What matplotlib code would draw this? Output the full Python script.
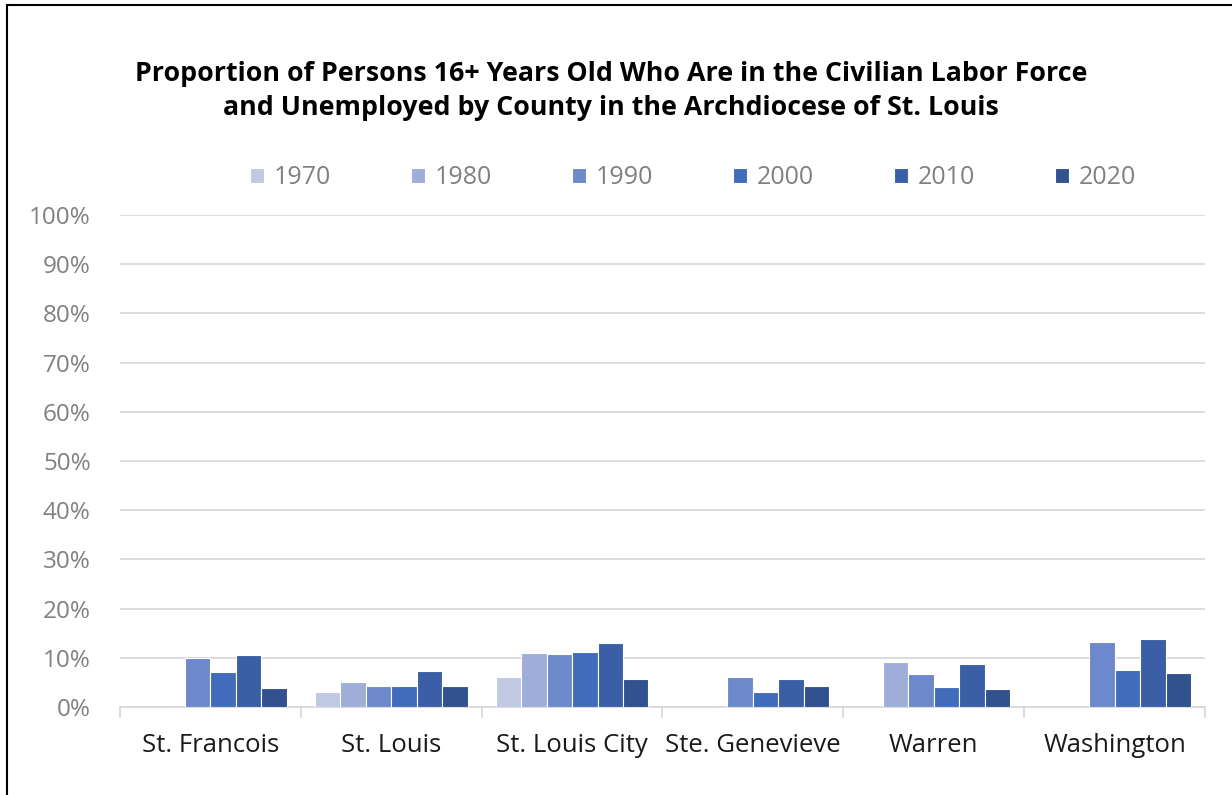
import numpy as np
import matplotlib.pyplot as plt
from matplotlib.patches import Rectangle

counties = ["St. Francois", "St. Louis", "St. Louis City", "Ste. Genevieve", "Warren", "Washington"]
years = ["1970", "1980", "1990", "2000", "2010", "2020"]
colors = ["#c0c9e4", "#9eaed9", "#6e88cc", "#416cbb", "#3a5fa7", "#31528e"]

# values per year, one per county (nan = no bar)
v1970 = [np.nan, 0.031, 0.061, np.nan, np.nan, np.nan]
v1980 = [np.nan, 0.051, 0.110, np.nan, 0.091, np.nan]
v1990 = [0.099, 0.042, 0.108, 0.061, 0.068, 0.132]
v2000 = [0.072, 0.043, 0.111, 0.030, 0.040, 0.075]
v2010 = [0.106, 0.073, 0.130, 0.057, 0.088, 0.139]
v2020 = [0.039, 0.043, 0.056, 0.042, 0.037, 0.070]
series = [v1970, v1980, v1990, v2000, v2010, v2020]

fig = plt.figure(figsize=(12.32, 7.95), dpi=100)
ax = fig.add_axes([120 / 1232, 1 - 707 / 795, 1085 / 1232, 492 / 795])

x = np.arange(len(counties))
n = len(series)
group = 0.845
w = group / n
for i, vals in enumerate(series):
    pos = x - group / 2 + w * (i + 0.5)
    ax.bar(pos, vals, width=w, color=colors[i], edgecolor="white", linewidth=0.8,
           label=years[i], zorder=3)

ax.set_xlim(-0.5, len(counties) - 0.5)
ax.set_ylim(0, 1)
ax.set_yticks(np.arange(0, 1.01, 0.1))
ax.set_yticklabels([f"{int(round(t * 100))}%" for t in np.arange(0, 1.01, 0.1)])
ax.yaxis.grid(True, color="#d9d9d9", linewidth=1.3, zorder=0)
ax.tick_params(axis="y", length=0, pad=21, labelsize=17.5, labelcolor="#808080")

ax.set_xticks(x)
ax.set_xticklabels(counties)
ax.tick_params(axis="x", length=0, pad=19, labelsize=18.5, labelcolor="#1a1a1a")
for b in np.arange(-0.5, len(counties), 1.0):
    ax.plot([b, b], [0, -0.02], color="#d9d9d9", linewidth=1.3, clip_on=False, zorder=2)

for s in ["top", "right", "left"]:
    ax.spines[s].set_visible(False)
ax.spines["bottom"].set_color("#d9d9d9")
ax.spines["bottom"].set_linewidth(1.3)

for lab in ax.get_xticklabels() + ax.get_yticklabels():
    lab.set_family("Open Sans")

fig.text(0.496, 1 - 91 / 795, "Proportion of Persons 16+ Years Old Who Are in the Civilian Labor Force\n"
         "and Unemployed by County in the Archdiocese of St. Louis",
         ha="center", va="center", fontsize=19.3, fontweight="bold", family="Open Sans",
         linespacing=1.38)

leg = fig.legend(loc="center", bbox_to_anchor=(693 / 1232, 1 - 178 / 795), ncol=6, frameon=False,
                 handlelength=0.55, handleheight=0.55, handletextpad=0.4,
                 columnspacing=3.2, prop={"family": "Open Sans", "size": 18})
for t in leg.get_texts():
    t.set_color("#808080")

fig.patches.append(Rectangle((7 / 1232, -0.1), 1.2, 1 - 5 / 795 + 0.1, transform=fig.transFigure,
                             fill=False, edgecolor="black", linewidth=1.5))

fig.savefig("out.png", dpi=100)
